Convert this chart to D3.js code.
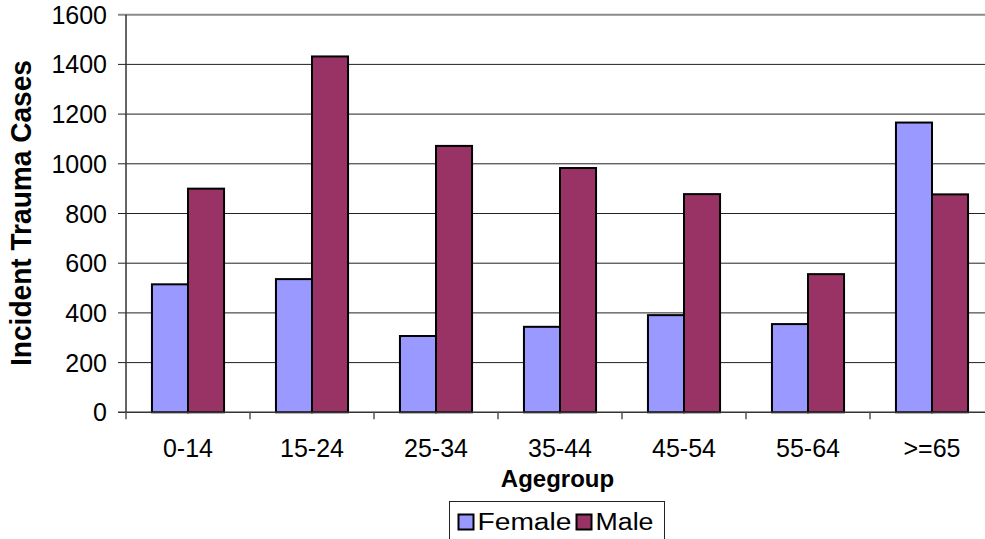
<!DOCTYPE html>
<html>
<head>
<meta charset="utf-8">
<script src="https://cdn.jsdelivr.net/npm/d3@7"></script>
<style>
  body { margin: 0; background: #fff; }
  svg { display: block; font-family: "Liberation Sans", Arial, sans-serif; }
</style>
</head>
<body>
<svg width="985" height="539"></svg>
<script>
  const ageGroups = ['0-14', '15-24', '25-34', '35-44', '45-54', '55-64', '>=65'];
  const seriesNames = ['Female', 'Male'];
  const femaleCases = [515, 536, 307, 344, 391, 355, 1166];
  const maleCases = [900, 1432, 1072, 983, 878, 556, 877];
  const yTicks = [0, 200, 400, 600, 800, 1000, 1200, 1400, 1600];

  const colors = { Female: '#9999ff', Male: '#993366' };

  const rows = ageGroups.map((g, i) => ({ group: g, Female: femaleCases[i], Male: maleCases[i] }));

  const svg = d3.select('svg');

  const plotLeft = 126, plotRight = 994, plotTop = 14.7, plotBottom = 412.3;

  const x = d3.scaleBand().domain(ageGroups).range([plotLeft, plotRight]);
  const xInner = d3.scaleBand().domain(seriesNames)
    .range([0, x.bandwidth()])
    .paddingOuter(0.72);
  const y = d3.scaleLinear().domain([0, 1600]).range([plotBottom, plotTop]);

  // gridlines
  svg.append('g').selectAll('line').data(yTicks.filter(d => d > 0))
    .enter().append('line')
      .attr('x1', plotLeft - 8).attr('x2', 985)
      .attr('y1', d => y(d)).attr('y2', d => y(d))
      .attr('stroke', d => d === 1600 ? '#8a8a8a' : '#222')
      .attr('stroke-width', d => d === 1600 ? 2 : 1);

  // bars
  const groups = svg.append('g').selectAll('g').data(rows)
    .enter().append('g')
      .attr('transform', d => `translate(${x(d.group)},0)`);

  groups.selectAll('rect')
    .data(d => seriesNames.map(s => ({ s, v: d[s] })))
    .enter().append('rect')
      .attr('x', d => xInner(d.s))
      .attr('width', xInner.bandwidth())
      .attr('y', d => y(d.v))
      .attr('height', d => y(0) - y(d.v))
      .attr('fill', d => colors[d.s])
      .attr('stroke', '#000')
      .attr('stroke-width', 2);

  // axes
  svg.append('line')
    .attr('x1', plotLeft).attr('x2', plotLeft)
    .attr('y1', plotTop).attr('y2', plotBottom)
    .attr('stroke', '#333').attr('stroke-width', 1.5);
  svg.append('line')
    .attr('x1', plotLeft - 8).attr('x2', 985)
    .attr('y1', plotBottom).attr('y2', plotBottom)
    .attr('stroke', '#333').attr('stroke-width', 1.5);

  const xTickPos = ageGroups.map(g => x(g)).concat([plotRight]);
  svg.append('g').selectAll('line').data(xTickPos)
    .enter().append('line')
      .attr('x1', d => d).attr('x2', d => d)
      .attr('y1', plotBottom).attr('y2', plotBottom + 7)
      .attr('stroke', '#555').attr('stroke-width', 1.5);

  svg.append('g').selectAll('text').data(yTicks)
    .enter().append('text')
      .attr('x', 107)
      .attr('y', d => y(d) + 9)
      .attr('text-anchor', 'end')
      .attr('font-size', 25)
      .text(d => d);

  svg.append('g').selectAll('text').data(ageGroups)
    .enter().append('text')
      .attr('x', d => x(d) + x.bandwidth() / 2)
      .attr('y', 457)
      .attr('text-anchor', 'middle')
      .attr('font-size', 25)
      .text(d => d);

  // axis titles
  svg.append('text')
    .attr('x', 557.5).attr('y', 487)
    .attr('text-anchor', 'middle')
    .attr('font-size', 24)
    .attr('font-weight', 'bold')
    .text('Agegroup');

  svg.append('text')
    .attr('transform', 'translate(31,213) rotate(-90)')
    .attr('text-anchor', 'middle')
    .attr('font-size', 29)
    .attr('font-weight', 'bold')
    .attr('textLength', 306)
    .attr('lengthAdjust', 'spacingAndGlyphs')
    .text('Incident Trauma Cases');

  // legend
  const legend = svg.append('g').attr('transform', 'translate(449.5,501.5)');
  legend.append('rect')
    .attr('width', 215).attr('height', 45)
    .attr('fill', '#fff').attr('stroke', '#222');

  const legendX = [9, 127];
  const legendLen = [94, 58];
  const items = legend.selectAll('g.item').data(seriesNames)
    .enter().append('g')
      .attr('class', 'item')
      .attr('transform', (d, i) => `translate(${legendX[i]},0)`);
  items.append('rect')
    .attr('x', 0).attr('y', 13)
    .attr('width', 15).attr('height', 15)
    .attr('fill', d => colors[d])
    .attr('stroke', '#000').attr('stroke-width', 2);
  items.append('text')
    .attr('x', 19).attr('y', 28)
    .attr('font-size', 23)
    .attr('textLength', (d, i) => legendLen[i])
    .attr('lengthAdjust', 'spacingAndGlyphs')
    .text(d => d);
</script>
</body>
</html>
